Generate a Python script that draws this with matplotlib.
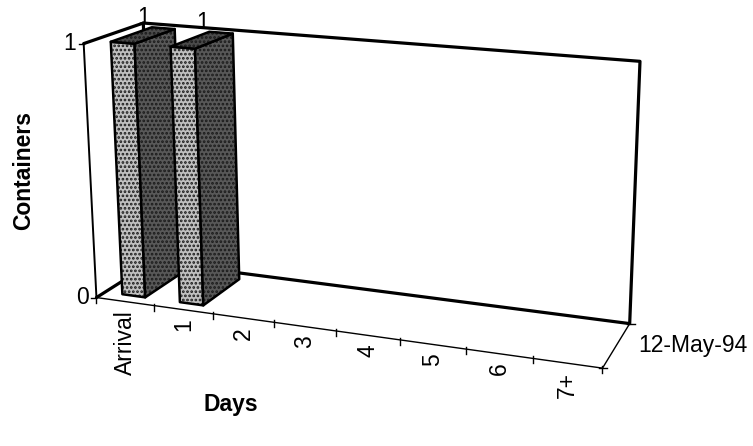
import numpy as np
import matplotlib.pyplot as plt
from matplotlib.patches import Polygon

categories = ['Arrival', '1', '2', '3', '4', '5', '6', '7+']
containers = [1, 1, 0, 0, 0, 0, 0, 0]
series_name = '12-May-94'
value_ticks = [0, 1]

plt.rcParams['font.family'] = ['Liberation Sans', 'DejaVu Sans']
plt.rcParams['hatch.linewidth'] = 1.3
FS = 16.5

n = len(categories)
top = max(value_ticks)

# corners of the plot box as (category, depth, value) and their canvas position
box_world = np.array([
    [0, 0, 0], [0, 0, top], [n, 0, 0], [0, 1, top], [n, 1, top], [n, 1, 0],
    [2, 0, 0], [4, 0, 0], [6, 0, 0],
], dtype=float)
box_screen = np.array([
    [97, 298], [84, 43], [603, 368], [143, 23], [640, 62], [630, 323],
    [213, 314], [335, 331], [465, 349],
], dtype=float)


def fit_camera(world, screen):
    # plain DLT: 3x4 perspective matrix from point pairs
    s = screen / 100.0
    rows = []
    for (X, Y, Z), (u, v) in zip(world, s):
        rows.append([X, Y, Z, 1, 0, 0, 0, 0, -u * X, -u * Y, -u * Z, -u])
        rows.append([0, 0, 0, 0, X, Y, Z, 1, -v * X, -v * Y, -v * Z, -v])
    _, _, vt = np.linalg.svd(np.array(rows))
    return vt[-1].reshape(3, 4)


P = fit_camera(box_world, box_screen)


def proj(x, d, z):
    p = P @ np.array([x, d, z, 1.0])
    return 100 * p[0] / p[2], 100 * p[1] / p[2]


fig = plt.figure(figsize=(7.53, 4.46), dpi=100)
ax = fig.add_axes([0, 0, 1, 1])
ax.set_xlim(0, 753)
ax.set_ylim(446, 0)
ax.axis('off')


def edge(pts, lw):
    xs, ys = zip(*[proj(*p) for p in pts])
    ax.plot(xs, ys, color='black', lw=lw, solid_capstyle='round',
            solid_joinstyle='round', zorder=2)


# side wall and back wall
edge([(0, 0, top), (0, 1, top), (n, 1, top), (n, 1, 0), (0, 1, 0), (0, 0, 0)], 2.3)
edge([(0, 1, 0), (0, 1, top)], 2.3)
# value axis, category axis, series axis
edge([(0, 0, 0), (0, 0, top)], 1.4)
edge([(0, 0, 0), (n, 0, 0), (n, 1, 0)], 1.0)

for t in value_ticks:
    u, v = proj(0, 0, t)
    ax.plot([u - 5, u], [v, v], color='black', lw=1.0)
    ax.text(u - 8, v, str(t), ha='right', va='center', fontsize=FS)

for i in range(n + 1):
    u, v = proj(i, 0, 0)
    ax.plot([u, u], [v - 2, v + 5], color='black', lw=1.0)

for i, name in enumerate(categories):
    u, v = proj(i + 0.5, 0, 0)
    ax.text(u, v + 9, name, rotation=90, ha='center', va='top', fontsize=FS)

for d in (0, 1):
    u, v = proj(n, d, 0)
    ax.plot([u - 3, u + 5], [v, v], color='black', lw=1.0)
u, v = proj(n, 0.5, 0)
ax.text(u + 22, v, series_name, ha='left', va='center', fontsize=FS)

# 3-D columns: front, right side and top faces
gx, gd = 0.3, 0.15
for i, val in enumerate(containers):
    if val <= 0:
        continue
    x0, x1 = i + gx, i + 1 - gx
    d0, d1 = gd, 1 - gd
    faces = [
        ([(x0, d0, 0), (x1, d0, 0), (x1, d0, val), (x0, d0, val)], '#c0c0c0'),
        ([(x1, d0, 0), (x1, d1, 0), (x1, d1, val), (x1, d0, val)], '#585858'),
        ([(x0, d0, val), (x1, d0, val), (x1, d1, val), (x0, d1, val)], '#4a4a4a'),
    ]
    for face, color in faces:
        pts = [proj(*p) for p in face]
        ax.add_patch(Polygon(pts, closed=True, facecolor=color, edgecolor='#1a1a1a',
                             lw=0, hatch='....', zorder=3 + i))
        ax.add_patch(Polygon(pts, closed=True, fill=False, edgecolor='black',
                             lw=1.8, joinstyle='round', zorder=3 + i))
    u, v = proj(i + 0.5, 0.5, val)
    ax.text(u, v - 6, str(val), ha='center', va='bottom', fontsize=FS)

ax.text(24, 170, 'Containers', rotation=90, ha='center', va='center',
        fontsize=FS, fontweight='bold')
ax.text(231, 404, 'Days', ha='center', va='center', fontsize=FS, fontweight='bold')

fig.savefig('out.png', dpi=100)
